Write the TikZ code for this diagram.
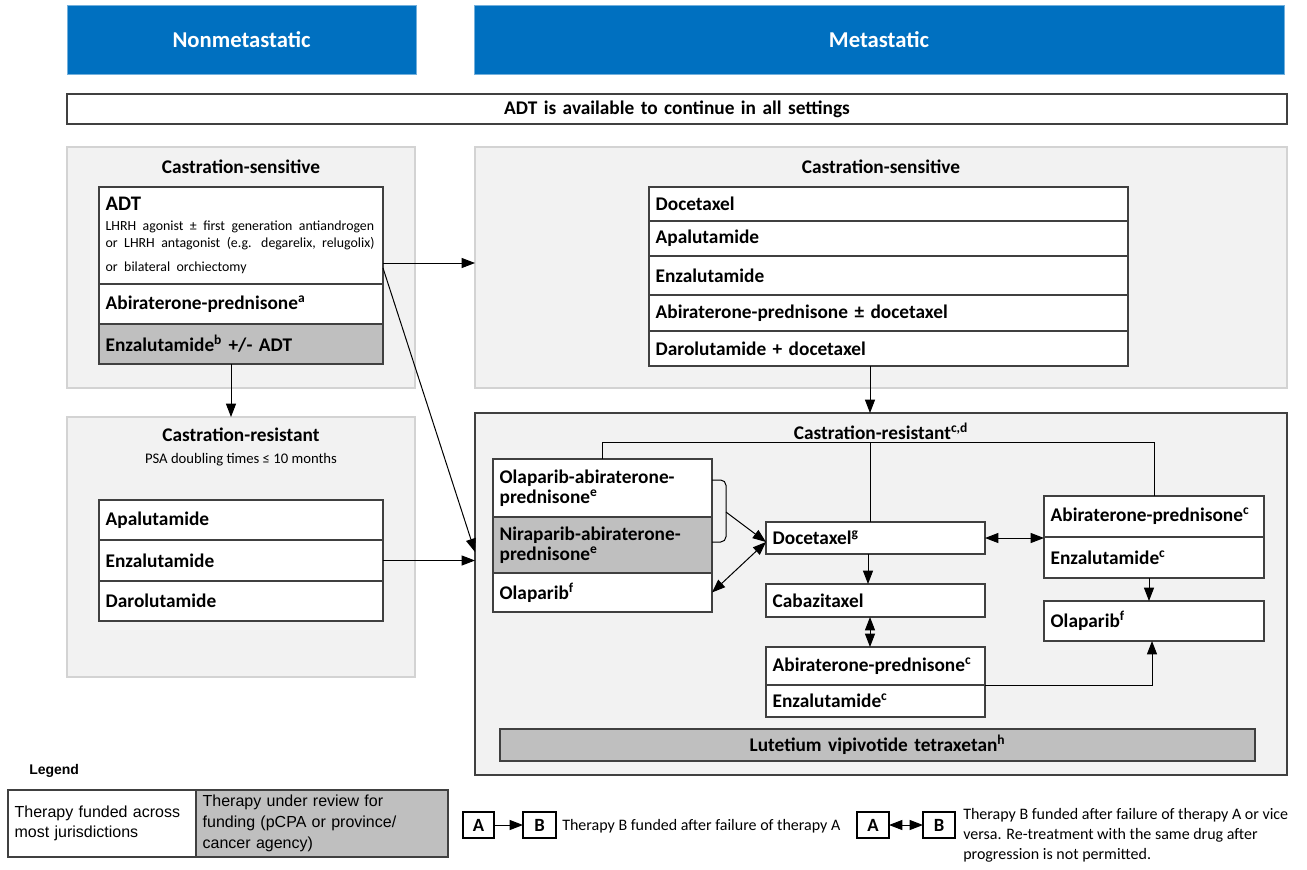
\documentclass[tikz,border=0pt]{standalone}
\usepackage{fontspec}
\setmainfont{Carlito}
\newfontfamily\arialf{Liberation Sans}
\usetikzlibrary{arrows.meta,calc}
\definecolor{hblue}{HTML}{0070C0}
\definecolor{pgray}{HTML}{F2F2F2}
\definecolor{pedge}{HTML}{D3D3D3}
\definecolor{dgray}{HTML}{BFBFBF}
\definecolor{edge}{HTML}{404040}
\newcommand\mycell[7]{%
  \pgfmathsetmacro\cw{(#5-#3)*0.75}%
  \pgfmathsetmacro\ch{(#6-#4)*0.75}%
  \pgfmathsetmacro\tw{max((#5-#3)*0.75-10,1)}%
  \node[#1, anchor=north west, minimum width=\cw pt, minimum height=\ch pt, text width=\tw pt] (#2) at (#3,#4) {#7};}
\tikzset{
  cell/.style={draw=edge, line width=0.9pt, fill=white, inner xsep=5pt, inner ysep=0pt, outer sep=0pt, align=left, font=\bfseries\fontsize{14.5}{15}\selectfont},
  gcell/.style={cell, fill=dgray},
  panel/.style={draw=pedge, line width=0.9pt, fill=pgray, inner xsep=5pt, inner ysep=0pt, outer sep=0pt},
  dpanel/.style={panel, draw=edge},
  header/.style={fill=hblue, draw=hblue!55!white, line width=0.6pt, inner xsep=5pt, inner ysep=0pt, outer sep=0pt, align=center, text=white, font=\bfseries\fontsize{17}{20}\selectfont},
  ptitle/.style={inner sep=0pt, font=\bfseries\fontsize{14.5}{15}\selectfont},
  arr/.style={-{Triangle[length=10pt,width=7.5pt]}, line width=0.75pt},
  darr/.style={{Triangle[length=10pt,width=7.5pt]}-{Triangle[length=10pt,width=7.5pt]}, line width=0.75pt},
  plain/.style={line width=0.75pt},
  legtext/.style={font=\arialf\fontsize{12}{15.5}\selectfont},
  abbox/.style={cell, align=center, line width=1.2pt, draw=black, font=\bfseries\fontsize{14}{15}\selectfont},
}
\begin{document}
\begin{tikzpicture}[x=0.75pt,y=-0.75pt]
\useasboundingbox (0,0) rectangle (1307,869);
% headers
\mycell{header}{hdrN}{67}{5}{416}{74}{Nonmetastatic}
\mycell{header}{hdrM}{474}{5}{1284}{74}{Metastatic}
\mycell{cell, align=center}{adtbar}{67}{94}{1287}{124}{ADT is available to continue in all settings}
% panels
\mycell{panel}{p1}{67}{147}{415}{388}{}
\mycell{panel}{p2}{67}{417}{415}{677}{}
\mycell{panel}{p3}{475}{147}{1287}{388}{}
\mycell{dpanel}{p4}{475}{413}{1287}{775}{}
\node[ptitle] (t1) at (241,167) {Castration-sensitive};
\node[ptitle] (t2) at (241,435) {Castration-resistant};
\node[inner sep=0pt, font=\fontsize{11}{13}\selectfont] (t2b) at (241,460) {PSA doubling times ≤ 10 months};
\node[ptitle] (t3) at (881,167) {Castration-sensitive};
\node[ptitle] (t4) at (881,431) {Castration-resistant\textsuperscript{c,d}};
% panel 1
\mycell{cell}{adt}{99}{187}{383}{284}{{\fontsize{15.5}{17}\selectfont ADT\par}\vspace{2pt}\mdseries\fontsize{10.4}{13}\selectfont \mbox{LHRH agonist ± first generation antiandrogen}\\\mbox{or LHRH antagonist (e.g. degarelix, relugolix)}\\[3pt]\mbox{or bilateral orchiectomy}}
\mycell{cell}{abi1}{99}{284}{383}{324}{Abiraterone-prednisone\textsuperscript{a}}
\mycell{gcell}{enz1}{99}{324}{383}{364}{Enzalutamide\textsuperscript{b} +/- ADT}
% panel 2
\mycell{cell}{apa2}{99}{500}{383}{540}{Apalutamide}
\mycell{cell}{enz2}{99}{540}{383}{581}{Enzalutamide}
\mycell{cell}{daro2}{99}{581}{383}{621}{Darolutamide}
% panel 3
\mycell{cell}{doc3}{649}{187}{1128}{221}{Docetaxel}
\mycell{cell}{apa3}{649}{221}{1128}{256}{Apalutamide}
\mycell{cell}{enz3}{649}{256}{1128}{295}{Enzalutamide}
\mycell{cell}{abi3}{649}{295}{1128}{331}{Abiraterone-prednisone ± docetaxel}
\mycell{cell}{daro3}{649}{331}{1128}{366}{Darolutamide + docetaxel}
% panel 4
\mycell{cell}{olab}{493}{459}{712}{517}{Olaparib-abiraterone-\\prednisone\textsuperscript{e}}
\mycell{gcell}{nira}{493}{517}{712}{573}{Niraparib-abiraterone-\\prednisone\textsuperscript{e}}
\mycell{cell}{olal}{493}{573}{712}{612}{Olaparib\textsuperscript{f}}
\mycell{cell}{doc}{766}{522}{985}{554}{Docetaxel\textsuperscript{g}}
\mycell{cell}{cab}{766}{584}{985}{617}{Cabazitaxel}
\mycell{cell}{abic}{766}{647}{985}{685}{Abiraterone-prednisone\textsuperscript{c}}
\mycell{cell}{enzc}{766}{685}{985}{717}{Enzalutamide\textsuperscript{c}}
\mycell{cell}{rabi}{1044}{496}{1264}{537}{Abiraterone-prednisone\textsuperscript{c}}
\mycell{cell}{renz}{1044}{537}{1264}{578}{Enzalutamide\textsuperscript{c}}
\mycell{cell}{olar}{1044}{601}{1264}{641}{Olaparib\textsuperscript{f}}
\mycell{gcell, align=center}{lut}{500}{729}{1255}{761}{Lutetium vipivotide tetraxetan\textsuperscript{h}}
% connectors left
\draw[arr] (enz1.south -| 231,0) -- (p2.north -| 231,0);
\draw[arr] (adt.east |- 0,263) -- (p3.west |- 0,263);
\draw[arr] (adt.east |- 0,268) -- (p4.west |- 0,552);
\draw[arr] (enz2.east) -- (p4.west |- enz2.east);
\draw[arr] (daro3.south -| 870,0) -- (p4.north -| 870,0);
% connectors panel 4
\draw[plain] (olab.north -| 602,0) -- (602,442) -- (1154,442) -- (rabi.north -| 1154,0);
\draw[plain] (870,442) -- (doc.north -| 870,0);
\draw[plain, rounded corners=4pt] (olab.east |- 0,480) -- (726,480) -- (726,542) -- (nira.east |- 0,542);
\coordinate (brk) at (726,512);
\coordinate (docin) at ($(doc.west)+(0,4)$);
\draw[arr] (brk) -- (docin);
\draw[darr] (olal.east) -- (docin);
\draw[darr] (doc.east) -- (doc.east -| renz.west);
\draw[arr] (doc.south -| 868,0) -- (cab.north -| 868,0);
\draw[darr] (cab.south -| 870,0) -- (abic.north -| 870,0);
\draw[arr] (renz.south -| 1149,0) -- (olar.north -| 1149,0);
\draw[arr] (abic.south east) -| (olar.south -| 1152,0);
% legend
\node[anchor=west, inner sep=0pt, font=\arialf\bfseries\fontsize{10.5}{12}\selectfont] (leg) at (29,771) {Legend};
\mycell{cell, legtext}{legl}{8}{790}{196}{857}{Therapy funded across\\most jurisdictions}
\mycell{gcell, legtext}{legr}{196}{790}{448}{857}{Therapy under review for\\funding (pCPA or province/\\cancer agency)}
\mycell{abbox}{la1}{463}{812}{494}{838}{A}
\mycell{abbox}{lb1}{523}{812}{556}{838}{B}
\draw[arr] (la1.east) -- (lb1.west);
\node[anchor=west, inner sep=0pt, font=\fontsize{12}{15}\selectfont] (lt1) at (562,826) {Therapy B funded after failure of therapy A};
\mycell{abbox}{la2}{857}{812}{889}{838}{A}
\mycell{abbox}{lb2}{923}{812}{955}{838}{B}
\draw[darr] (la2.east) -- (lb2.west);
\node[anchor=north west, inner sep=0pt, align=left, font=\fontsize{12}{15}\selectfont] (lt2) at (963,808) {Therapy B funded after failure of therapy A or vice\\versa. Re-treatment with the same drug after\\progression is not permitted.};
\end{tikzpicture}
\end{document}
